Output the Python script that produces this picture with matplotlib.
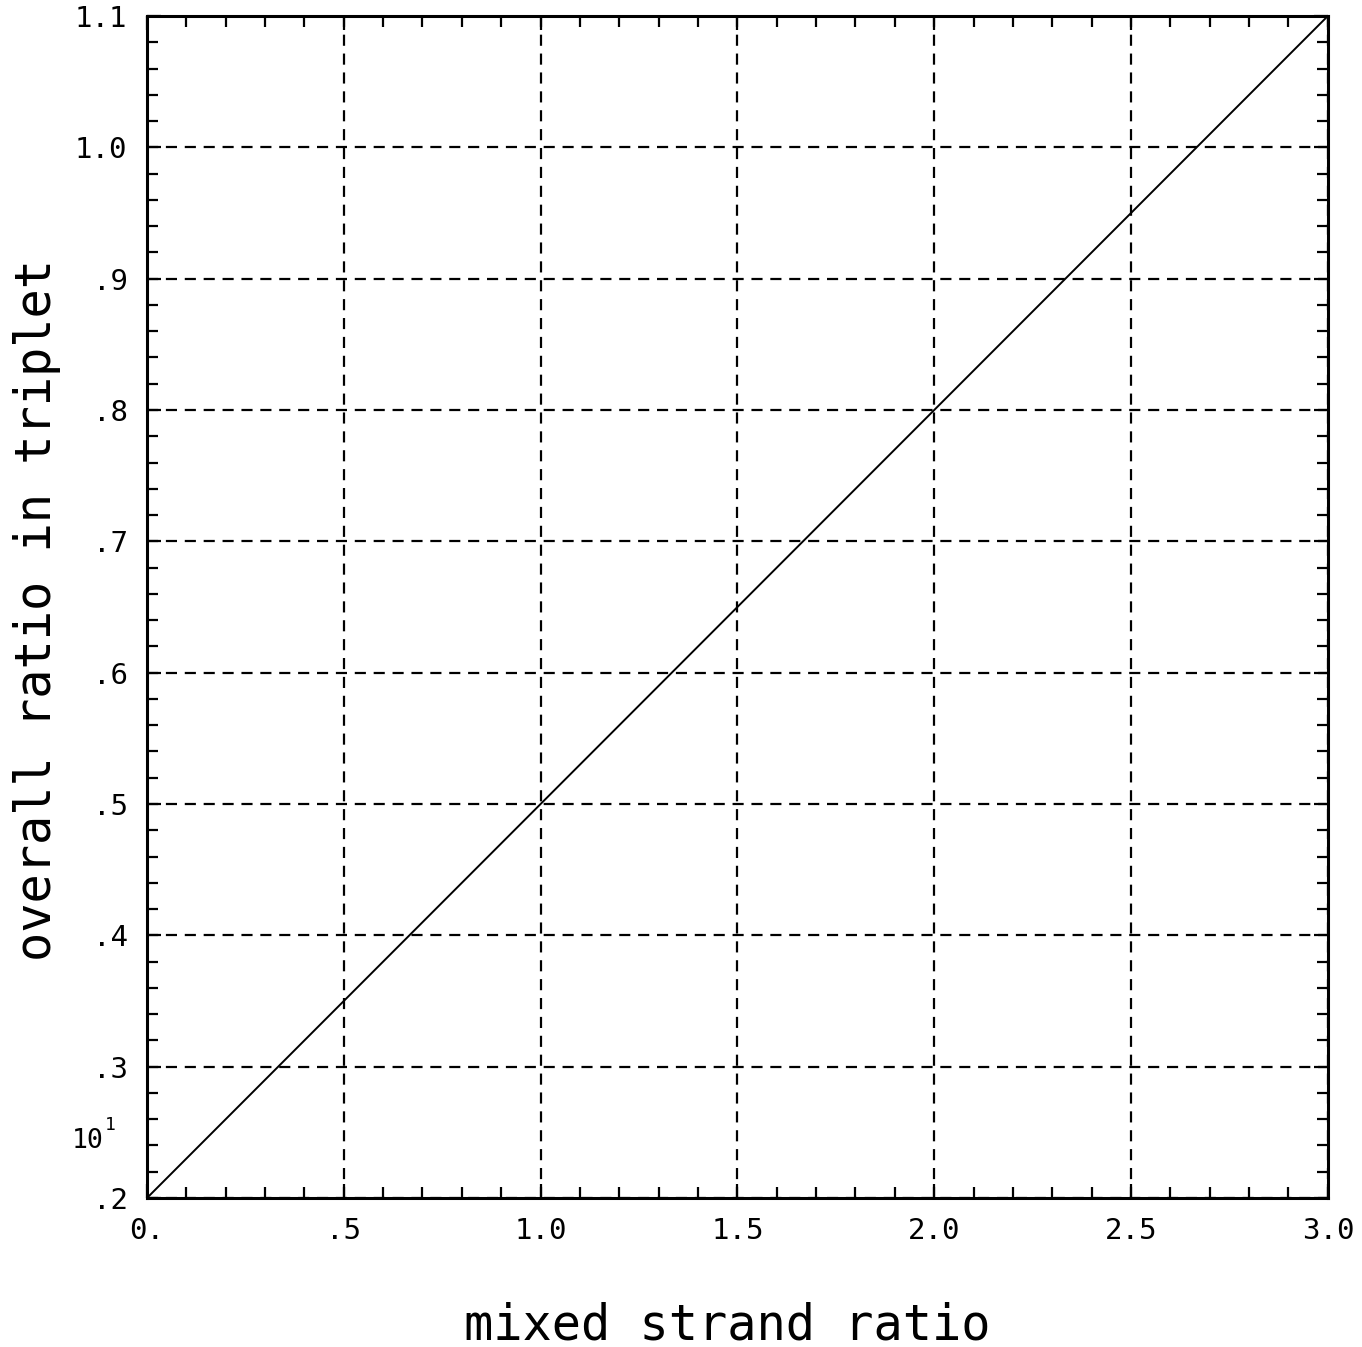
import numpy as np
import matplotlib.pyplot as plt
from matplotlib.ticker import MultipleLocator

# data
mixed_ratio = [0.0, 0.5, 1.0, 1.5, 2.0, 2.5, 3.0]
overall_ratio = [0.20, 0.35, 0.50, 0.65, 0.80, 0.95, 1.10]

x_ticks = [0.0, 0.5, 1.0, 1.5, 2.0, 2.5, 3.0]
x_tick_labels = ['0.', '.5', '1.0', '1.5', '2.0', '2.5', '3.0']
y_ticks = [0.2, 0.3, 0.4, 0.5, 0.6, 0.7, 0.8, 0.9, 1.0, 1.1]
y_tick_labels = ['.2', '.3', '.4', '.5', '.6', '.7', '.8', '.9', '1.0', '1.1']

mono = 'DejaVu Sans Mono'

fig = plt.figure(figsize=(13.62, 13.47), dpi=100)
ax = fig.add_axes([0.1079, 0.1106, 0.867, 0.8775])

ax.plot(mixed_ratio, overall_ratio, color='black', linewidth=1.4)

ax.set_xlim(0, 3.0)
ax.set_ylim(0.2, 1.1)

ax.set_xticks(x_ticks)
ax.set_xticklabels(x_tick_labels, family=mono, fontsize=21)
ax.set_yticks(y_ticks)
ax.set_yticklabels(y_tick_labels, family=mono, fontsize=21)
ax.xaxis.set_minor_locator(MultipleLocator(0.1))
ax.yaxis.set_minor_locator(MultipleLocator(0.02))

# ticks inward on all four sides
ax.tick_params(which='both', direction='in', top=True, right=True,
               width=1.6, color='black')
ax.tick_params(which='major', length=10, pad=14)
ax.tick_params(which='minor', length=8)

for sp in ax.spines.values():
    sp.set_linewidth(2.2)

# dashed grid at the major ticks
ax.grid(True, which='major', color='black', linestyle=(0, (5, 3.5)), linewidth=1.6)

# axis titles placed in figure coords
fig.text(0.534, 0.016, 'mixed strand ratio', family=mono, fontsize=35,
         ha='center', va='center')
fig.text(0.027, 0.547, 'overall ratio in triplet', family=mono, fontsize=35,
         ha='center', va='center', rotation=90)

# exponent marker next to the y axis
fig.text(0.053, 0.153, '10', family=mono, fontsize=19, va='center')
fig.text(0.077, 0.165, '1', family=mono, fontsize=13, va='center')

fig.savefig('out.png', dpi=100)
